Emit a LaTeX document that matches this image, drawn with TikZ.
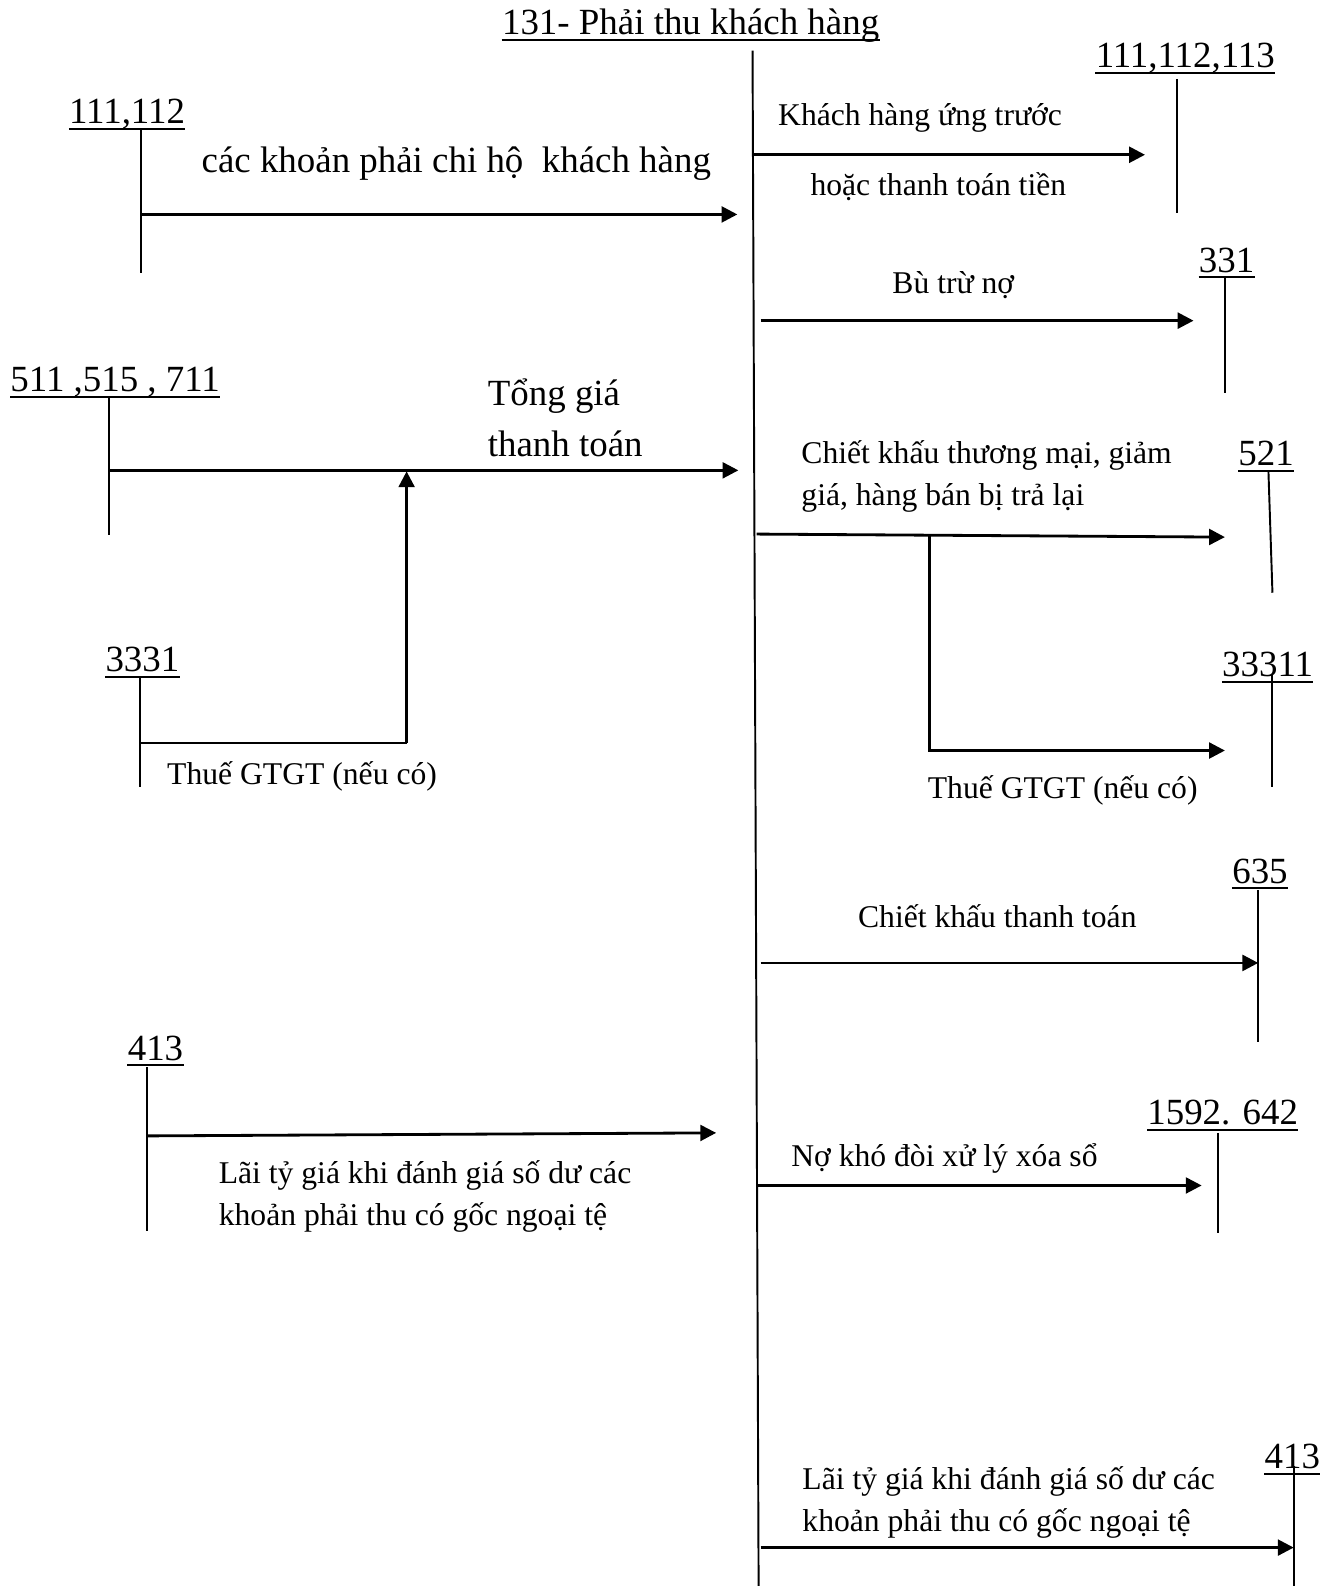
\documentclass[tikz,border=0pt]{standalone}
\usepackage{fontspec}
\setmainfont{Liberation Serif}
\usetikzlibrary{arrows.meta}

\begin{document}
\begin{tikzpicture}[
    x=0.2023mm, y=-0.2023mm,
    big/.style={font=\fontsize{21}{28.7}\selectfont},
    mid/.style={font=\fontsize{18}{24}\selectfont},
    acct/.style={big, inner sep=0pt, anchor=base west},
    txt/.style={inner sep=0pt, anchor=base west, align=left},
    tline/.style={line width=1.1pt},
    ar/.style={-{Triangle[length=9pt,width=9pt]}, line width=1.6pt},
  ]
    \useasboundingbox (0,0) rectangle (1318,1568);

    % tai khoan 131
    \node[acct] (title) at (496,34) {131- Phải thu khách hàng};
    \coordinate (mtop) at (744,50);
    \coordinate (mbot) at (750,1568);
    \draw[tline] (mtop) -- (mbot);

    % ben trai
    \node[acct] (a111) at (68,122) {111,112};
    \coordinate (a111t) at (139,127);
    \coordinate (a111b) at (139,270);
    \coordinate (a111m) at (139,212);
    \coordinate (m1) at (729,212);
    \node[txt, big] (t1) at (199,171) {các khoản phải chi hộ\ \ khách hàng};

    \node[acct] (a511) at (10,387) {511 ,515 , 711};
    \coordinate (a511t) at (108,393);
    \coordinate (a511b) at (108,529);
    \coordinate (a511m) at (108,465);
    \coordinate (m2) at (730,465);
    \node[txt, big] (t2) at (482,451) {Tổng giá\\thanh toán};

    \node[acct] (a3331) at (104,664) {3331};
    \coordinate (a3331t) at (138,669);
    \coordinate (a3331b) at (138,778);
    \coordinate (a3331m) at (138,735);
    \coordinate (v1) at (402,735);
    \coordinate (v1e) at (402,466);
    \node[txt, mid] (t3) at (165,776) {Thuế GTGT (nếu có)};

    \node[acct] (a413) at (126,1048) {413};
    \coordinate (a413t) at (145,1055);
    \coordinate (a413b) at (145,1217);
    \coordinate (a413m) at (145,1123);
    \coordinate (m3) at (708,1120);
    \node[txt, mid] (t4) at (216,1212) {Lãi tỷ giá khi đánh giá số dư các\\khoản phải thu có gốc ngoại tệ};

    % ben phai
    \node[acct] (b111) at (1083,67) {111,112,113};
    \coordinate (b111t) at (1164,78);
    \coordinate (b111b) at (1164,211);
    \coordinate (r1) at (745,153);
    \coordinate (b111m) at (1132,153);
    \node[txt, mid] (t5) at (769,124) {Khách hàng ứng trước};
    \node[txt, mid] (t6) at (801,193) {hoặc thanh toán tiền};

    \node[acct] (b331) at (1185,269) {331};
    \coordinate (b331t) at (1211,273);
    \coordinate (b331b) at (1211,389);
    \coordinate (r2) at (752,317);
    \coordinate (b331m) at (1180,317);
    \node[txt, mid] (t7) at (882,290) {Bù trừ nợ};

    \node[acct] (b521) at (1224,460) {521};
    \coordinate (b521t) at (1254,465);
    \coordinate (b521b) at (1258,586);
    \coordinate (r3) at (748,528);
    \coordinate (b521m) at (1211,531);
    \coordinate (k1) at (919,530);
    \node[txt, mid] (t8) at (792,500) {Chiết khấu thương mại, giảm\\giá, hàng bán bị trả lại};

    \node[acct] (b33311) at (1208,669) {33311};
    \coordinate (b33311t) at (1258,666);
    \coordinate (b33311b) at (1258,778);
    \coordinate (b33311m) at (1211,742);
    \node[txt, mid] (t9) at (917,789) {Thuế GTGT (nếu có)};

    \node[acct] (b635) at (1218,873) {635};
    \coordinate (b635t) at (1244,880);
    \coordinate (b635b) at (1244,1030);
    \coordinate (r4) at (752,952);
    \coordinate (b635m) at (1244,952);
    \node[txt, mid] (t10) at (848,917) {Chiết khấu thanh toán};

    \node[acct] (b1592) at (1134,1112) {1592. 642};
    \coordinate (b1592t) at (1204,1120);
    \coordinate (b1592b) at (1204,1219);
    \coordinate (r5) at (748,1172);
    \coordinate (b1592m) at (1188,1172);
    \node[txt, mid] (t11) at (782,1153) {Nợ khó đòi xử lý xóa sổ};

    \node[acct] (b413) at (1250,1452) {413};
    \coordinate (b413t) at (1279,1449);
    \coordinate (b413b) at (1279,1568);
    \coordinate (r6) at (752,1530);
    \coordinate (b413m) at (1279,1530);
    \node[txt, mid] (t12) at (793,1514) {Lãi tỷ giá khi đánh giá số dư các\\khoản phải thu có gốc ngoại tệ};

    % gach chan so hieu tai khoan
    \foreach \n in {title,a111,a511,a3331,a413,b111,b331,b521,b33311,b635,b1592,b413}
      \draw[tline] ([yshift=-3pt]\n.base west) -- ([yshift=-3pt]\n.base east);
    % chu T
    \foreach \n in {a111,a511,a3331,a413,b111,b331,b521,b33311,b635,b1592,b413}
      \draw[tline] (\n t) -- (\n b);

    \draw[ar] (a111m) -- (m1);
    \draw[ar] (a511m) -- (m2);
    \draw[tline] (a3331m) -- (v1);
    \draw[ar] (v1) -- (v1e);
    \draw[ar] (a413m) -- (m3);
    \draw[ar] (r1) -- (b111m);
    \draw[ar] (r2) -- (b331m);
    \draw[ar] (r3) -- (b521m);
    \draw[ar] (k1) |- (b33311m);
    \draw[ar] (r4) -- (b635m);
    \draw[ar] (r5) -- (b1592m);
    \draw[ar] (r6) -- (b413m);
  \end{tikzpicture}
\end{document}
